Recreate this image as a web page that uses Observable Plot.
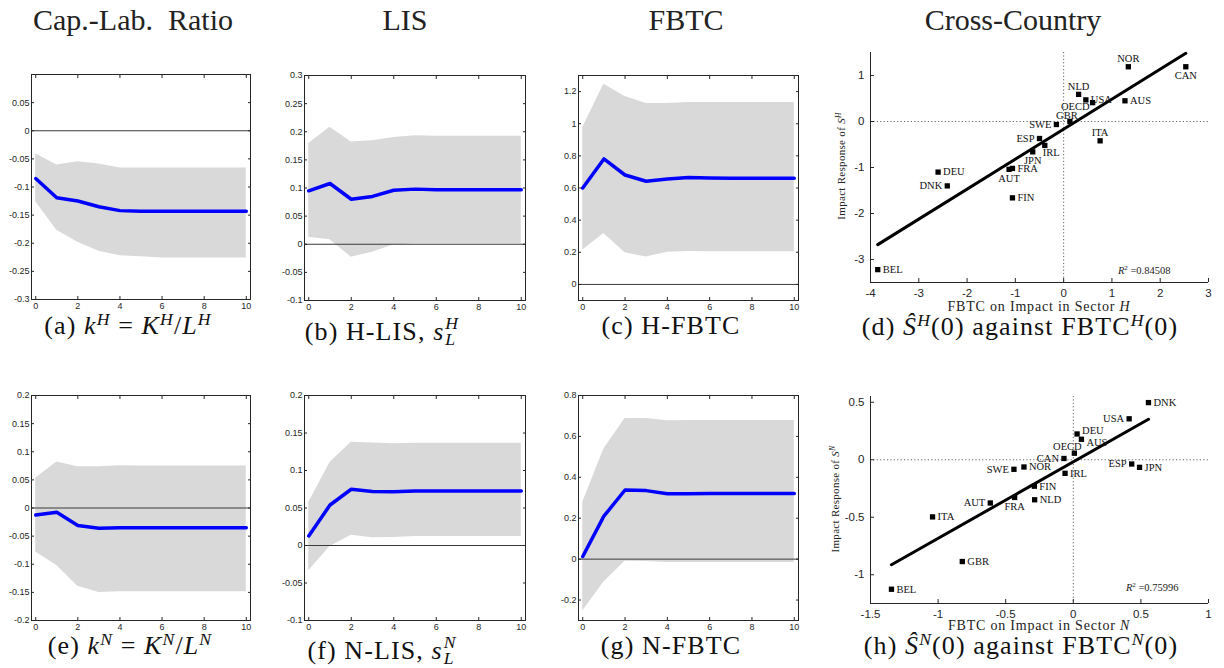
<!DOCTYPE html>
<html><head><meta charset="utf-8">
<script src="https://cdn.jsdelivr.net/npm/d3@7"></script>
<script src="https://cdn.jsdelivr.net/npm/@observablehq/plot@0.6"></script>
<style>
body{margin:0;background:#fff;}
#fig{position:relative;width:1224px;height:668px;overflow:hidden;font-family:"Liberation Serif","DejaVu Serif","Noto Serif",serif;color:#000;}
.title{position:absolute;top:5px;font-size:30px;line-height:30px;transform:translateX(-50%);white-space:nowrap;color:#222;}
.cap{position:absolute;font-size:26px;line-height:19px;letter-spacing:1.1px;transform:translateX(-50%);white-space:nowrap;color:#111;}
sup{font-size:0.68em;vertical-align:0.5em;line-height:0;}
.ss{display:inline-block;vertical-align:-0.28em;font-size:0.68em;line-height:0.9;text-align:left;margin-left:1px;}
.ss span{display:block;}
.xl{position:absolute;font-size:14px;line-height:14px;letter-spacing:0.8px;transform:translate(-50%,-50%);white-space:nowrap;color:#222;}
.yl{position:absolute;font-size:11px;line-height:11px;letter-spacing:0.3px;transform:translate(-50%,-50%) rotate(-90deg);white-space:nowrap;color:#222;}
</style></head>
<body>
<div id="fig"></div>
<script>
// ---------- data ----------
const horizons = [0,1,2,3,4,5,6,7,8,9,10];
const xTicksIRF = [0,2,4,6,8,10];

const capLabH_mid = [-0.085,-0.119,-0.125,-0.135,-0.142,-0.143,-0.143,-0.143,-0.143,-0.143,-0.143];
const capLabH_lo  = [-0.126,-0.177,-0.198,-0.214,-0.222,-0.224,-0.226,-0.226,-0.226,-0.226,-0.226];
const capLabH_hi  = [-0.041,-0.061,-0.055,-0.059,-0.066,-0.066,-0.066,-0.066,-0.066,-0.066,-0.066];
const capLabH_ticks = [-0.3,-0.25,-0.2,-0.15,-0.1,-0.05,0,0.05];

const lisH_mid = [0.095,0.108,0.080,0.085,0.096,0.098,0.097,0.097,0.097,0.097,0.097];
const lisH_lo  = [0.0125,0.008,-0.023,-0.014,-0.001,0.001,0.001,0.001,0.001,0.001,0.001];
const lisH_hi  = [0.179,0.208,0.182,0.184,0.190,0.193,0.192,0.192,0.192,0.192,0.192];
const lisH_ticks = [-0.1,-0.05,0,0.05,0.1,0.15,0.2,0.25,0.3];

const fbtcH_mid = [0.600,0.781,0.681,0.642,0.656,0.665,0.662,0.661,0.660,0.660,0.660];
const fbtcH_lo  = [0.215,0.317,0.197,0.170,0.201,0.205,0.203,0.203,0.203,0.203,0.203];
const fbtcH_hi  = [0.977,1.246,1.170,1.126,1.126,1.132,1.132,1.132,1.132,1.132,1.132];
const fbtcH_ticks = [0,0.2,0.4,0.6,0.8,1,1.2];

const capLabN_mid = [-0.0124,-0.0076,-0.031,-0.036,-0.035,-0.035,-0.035,-0.035,-0.035,-0.035,-0.035];
const capLabN_lo  = [-0.078,-0.102,-0.139,-0.150,-0.149,-0.149,-0.149,-0.149,-0.149,-0.149,-0.149];
const capLabN_hi  = [0.053,0.082,0.0735,0.0735,0.075,0.0747,0.0747,0.0747,0.0747,0.0747,0.0747];
const capLabN_ticks = [-0.2,-0.15,-0.1,-0.05,0,0.05,0.1,0.15,0.2];

const lisN_mid = [0.0128,0.054,0.075,0.072,0.0717,0.0726,0.0726,0.0726,0.0726,0.0726,0.0726];
const lisN_lo  = [-0.0336,-0.0013,0.0137,0.0102,0.0106,0.012,0.012,0.012,0.012,0.012,0.012];
const lisN_hi  = [0.0575,0.1106,0.1376,0.1367,0.1358,0.1363,0.1363,0.1363,0.1363,0.1363,0.1363];
const lisN_ticks = [-0.1,-0.05,0,0.05,0.1,0.15,0.2];

const fbtcN_mid = [0.013,0.21,0.338,0.335,0.32,0.32,0.321,0.321,0.321,0.321,0.321];
const fbtcN_lo  = [-0.254,-0.112,-0.010,-0.011,-0.016,-0.016,-0.016,-0.016,-0.016,-0.016,-0.016];
const fbtcN_hi  = [0.278,0.538,0.688,0.688,0.676,0.678,0.678,0.678,0.678,0.678,0.678];
const fbtcN_ticks = [-0.2,0,0.2,0.4,0.6,0.8];

// cross-country, sector H
const ctryH  = ["NOR","CAN","NLD","USA","OECD","AUS","GBR","SWE","ESP","ITA","IRL","JPN","DEU","FRA","AUT","DNK","FIN","BEL"];
const fbtcImpH = [1.34,2.53,0.31,0.46,0.60,1.27,0.13,-0.15,-0.50,0.755,-0.39,-0.64,-2.60,-1.06,-1.13,-2.41,-1.06,-3.85];
const sImpH    = [1.19,1.19,0.59,0.47,0.41,0.45,0.00,-0.065,-0.37,-0.42,-0.52,-0.66,-1.10,-1.02,-1.04,-1.40,-1.66,-3.22];
const labPosH  = ["a","b","a","r","bl","r","ga","l","l","a","br","b","r","r","b","l","r","r"];
const r2H = "0.84508";
const xTicksH = [-4,-3,-2,-1,0,1,2,3];
const yTicksH = [-3,-2,-1,0,1];

// cross-country, sector N
const ctryN  = ["DNK","USA","DEU","AUS","OECD","CAN","ESP","JPN","SWE","NOR","IRL","FIN","NLD","FRA","AUT","ITA","GBR","BEL"];
const fbtcImpN = [0.556,0.413,0.028,0.060,0.008,-0.069,0.432,0.490,-0.439,-0.365,-0.061,-0.288,-0.286,-0.434,-0.614,-1.041,-0.821,-1.345];
const sImpN    = [0.497,0.356,0.224,0.178,0.057,0.011,-0.037,-0.066,-0.083,-0.063,-0.118,-0.230,-0.348,-0.328,-0.376,-0.497,-0.885,-1.126];
const labPosN  = ["r","l","ru","rd","al","l","l","r","l","r","r","r","r","b","l","r","r","r"];
const r2N = "0.75996";
const xTicksN = [-1.5,-1,-0.5,0,0.5,1];
const yTicksN = [-1,-0.5,0,0.5];

// ---------- drawing ----------
const fig = document.getElementById("fig");
function place(el, left, top){ el.style.position="absolute"; el.style.left=left+"px"; el.style.top=top+"px"; fig.appendChild(el); }
function html(cls, content, left, top){ const d=document.createElement("div"); d.className=cls; d.innerHTML=content; d.style.left=left+"px"; d.style.top=top+"px"; fig.appendChild(d); }
const fmt = d => String(d);
const sans = '"Liberation Sans", Arial, sans-serif';
const serif = '"Liberation Serif", "DejaVu Serif", "Noto Serif", serif';

function irfPanel(box, yDomain, yTicks, mid, lo, hi){
  const [fx0, fx1, fy0, fy1] = box;
  const mL=36, mR=10, mT=8, mB=20;
  const rows = horizons.map((t,i)=>({t, m:mid[i], lo:lo[i], hi:hi[i]}));
  const p = Plot.plot({
    width: fx1-fx0+mL+mR, height: fy1-fy0+mT+mB,
    marginLeft:mL, marginRight:mR, marginTop:mT, marginBottom:mB,
    style:{fontFamily:sans, fontSize:"9px", color:"#262626", background:"transparent", overflow:"visible"},
    x:{domain:[-0.2,10.2]}, y:{domain:yDomain},
    marks:[
      Plot.areaY(rows,{x:"t", y1:"lo", y2:"hi", fill:"#d9d9d9"}),
      Plot.ruleY([0],{stroke:"#3a3a3a", strokeWidth:1}),
      Plot.lineY(rows,{x:"t", y:"m", stroke:"#0000ff", strokeWidth:3.5}),
      Plot.axisX(xTicksIRF,{anchor:"bottom", tickSize:-3, tickPadding:6, tickFormat:fmt, label:null}),
      Plot.axisX(xTicksIRF,{anchor:"top", tickSize:-3, tickFormat:()=>"", label:null}),
      Plot.axisY(yTicks,{anchor:"left", tickSize:-3, tickPadding:5, tickFormat:fmt, label:null}),
      Plot.axisY(yTicks,{anchor:"right", tickSize:-3, tickFormat:()=>"", label:null}),
      Plot.frame({stroke:"#262626"})
    ]
  });
  place(p, fx0-mL, fy0-mT);
}

function scatterPanel(box, xDomain, yDomain, xTicks, yTicks, names, xs, ys, pos, r2, r2dx, r2dy){
  const [fx0, fx1, fy0, fy1] = box;
  const mL=44, mR=10, mT=8, mB=22;
  const off = {r:[5,0,"start"], ru:[5,-3,"start"], rd:[5,3,"start"], l:[-5,0,"end"], a:[0,-8,"middle"], b:[0,9,"middle"],
               bl:[-3,4,"end"], br:[-2,7,"start"], al:[-7,-7,"middle"], ga:[-3,-6,"middle"]};
  const pts = names.map((n,i)=>({n, x:xs[i], y:ys[i], p:pos[i]}));
  const labelMarks = Object.keys(off).map(k => Plot.text(pts.filter(d=>d.p===k), {
    x:"x", y:"y", text:"n", dx:off[k][0], dy:off[k][1], textAnchor:off[k][2],
    fontFamily:serif, fontSize:10.5, fill:"#111"}));
  const p = Plot.plot({
    width: fx1-fx0+mL+mR, height: fy1-fy0+mT+mB,
    marginLeft:mL, marginRight:mR, marginTop:mT, marginBottom:mB,
    style:{fontFamily:sans, fontSize:"11.5px", color:"#262626", background:"transparent", overflow:"visible"},
    x:{domain:xDomain}, y:{domain:yDomain},
    marks:[
      Plot.ruleX([0],{stroke:"#666", strokeWidth:1, strokeDasharray:"1.2,2.2"}),
      Plot.ruleY([0],{stroke:"#666", strokeWidth:1, strokeDasharray:"1.2,2.2"}),
      Plot.linearRegressionY(pts,{x:"x", y:"y", stroke:"#000", strokeWidth:3, ci:0}),
      Plot.dot(pts,{x:"x", y:"y", symbol:"square", fill:"#000", r:3}),
      ...labelMarks,
      Plot.text([r2],{frameAnchor:"bottom-right", dx:r2dx, dy:r2dy, textAnchor:"end", lineAnchor:"middle", text:d=>"R2 ="+d, fontFamily:serif, fontSize:10.5, fill:"#222"}),
      Plot.ruleX([xDomain[0]],{stroke:"#262626"}),
      Plot.ruleY([yDomain[0]],{stroke:"#262626"}),
      Plot.axisX(xTicks,{anchor:"bottom", tickSize:-4, tickPadding:10, tickFormat:fmt, label:null}),
      Plot.axisY(yTicks,{anchor:"left", tickSize:-4, tickPadding:10, tickFormat:fmt, label:null})
    ]
  });
  p.querySelectorAll("text").forEach(t=>{
    if (t.textContent.startsWith("R2 =")) {
      const val = t.textContent.slice(4);
      t.innerHTML = '<tspan font-style="italic">R</tspan><tspan dy="-4" font-size="7">2</tspan><tspan dy="4"> =' + val + '</tspan>';
    }
  });
  place(p, fx0-mL, fy0-mT);
}

irfPanel([31,250,74,299], [-0.3,0.1], capLabH_ticks, capLabH_mid, capLabH_lo, capLabH_hi);
irfPanel([304,525,75,300], [-0.1,0.3], lisH_ticks, lisH_mid, lisH_lo, lisH_hi);
irfPanel([578,798,75,300], [-0.1,1.3], fbtcH_ticks, fbtcH_mid, fbtcH_lo, fbtcH_hi);
irfPanel([31,250,395,620], [-0.2,0.2], capLabN_ticks, capLabN_mid, capLabN_lo, capLabN_hi);
irfPanel([304,525,395,620], [-0.1,0.2], lisN_ticks, lisN_mid, lisN_lo, lisN_hi);
irfPanel([578,798,395,620], [-0.3,0.8], fbtcN_ticks, fbtcN_mid, fbtcN_lo, fbtcN_hi);

scatterPanel([870,1208,52,282], [-4,3], [-3.5,1.5], xTicksH, yTicksH, ctryH, fbtcImpH, sImpH, labPosH, r2H, -38, -12);
scatterPanel([870,1208,396,603], [-1.5,1], [-1.25,0.55], xTicksN, yTicksN, ctryN, fbtcImpN, sImpN, labPosN, r2N, -30, -16);

// titles
html("title","Cap.-Lab.&nbsp; Ratio",133,5);
html("title","LIS",405,5);
html("title","FBTC",686,5);
html("title","Cross-Country",1013,5);

// captions
html("cap",'(a) <i>k</i><sup><i>H</i></sup> = <i>K</i><sup><i>H</i></sup>/<i>L</i><sup><i>H</i></sup>',128,316);
html("cap",'(b) H-LIS, <i>s</i><span class="ss"><span><i>H</i></span><span><i>L</i></span></span>',382,316);
html("cap",'(c) H-FBTC',671,316);
html("cap",'(d) <i>Ŝ</i><sup><i>H</i></sup>(0) against FBTC<sup><i>H</i></sup>(0)',1020,317);
html("cap",'(e) <i>k</i><sup><i>N</i></sup> = <i>K</i><sup><i>N</i></sup>/<i>L</i><sup><i>N</i></sup>',130,636);
html("cap",'(f) N-LIS, <i>s</i><span class="ss"><span><i>N</i></span><span><i>L</i></span></span>',382,635);
html("cap",'(g) N-FBTC',671,636);
html("cap",'(h) <i>Ŝ</i><sup><i>N</i></sup>(0) against FBTC<sup><i>N</i></sup>(0)',1021,636);

// scatter axis labels
html("xl",'FBTC on Impact in Sector <i>H</i>',1039,307);
html("xl",'FBTC on Impact in Sector <i>N</i>',1039,626);
html("yl",'Impact Response of <i>S</i><sup><i>H</i></sup>',841,166);
html("yl",'Impact Response of <i>S</i><sup><i>N</i></sup>',835,499);
</script>
</body></html>
